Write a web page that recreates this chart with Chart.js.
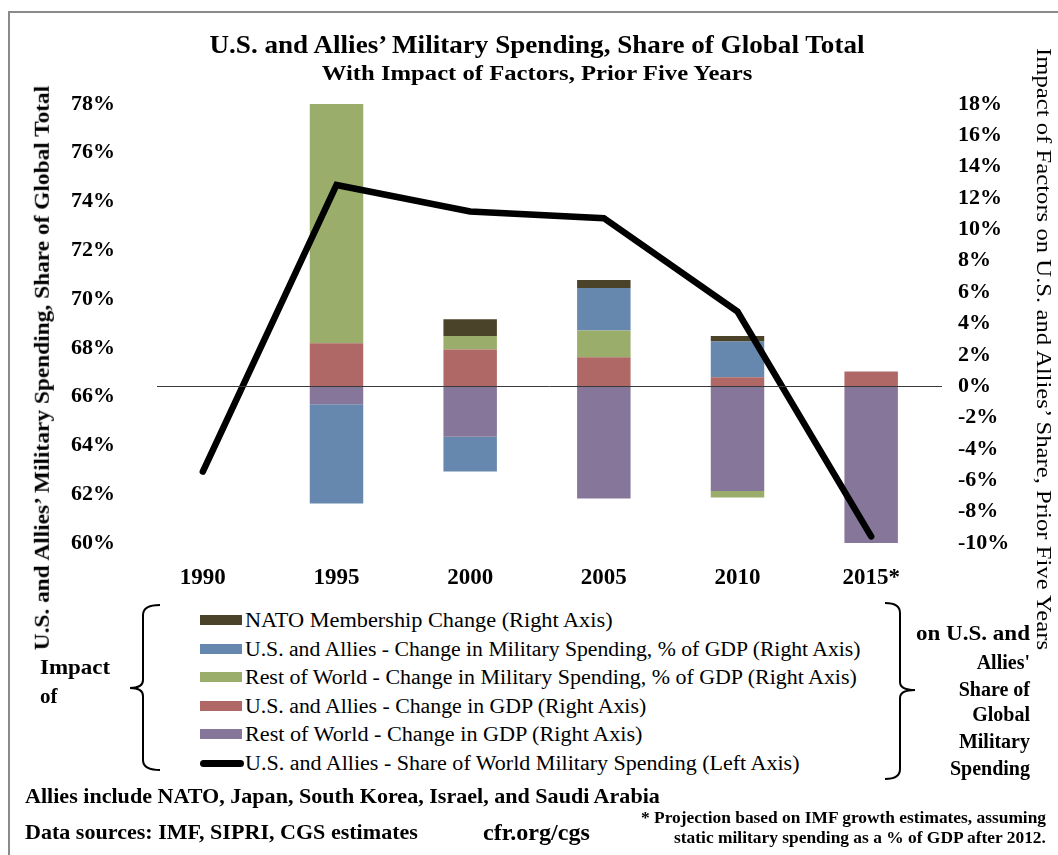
<!DOCTYPE html>
<html>
<head>
<meta charset="utf-8">
<script src="https://cdn.jsdelivr.net/npm/chart.js@4.4.0/dist/chart.umd.min.js"></script>
<style>
  html, body { margin:0; padding:0; background:#fff; }
  body { width:1058px; height:855px; position:relative; overflow:hidden; font-family:"Liberation Serif","DejaVu Serif",serif; color:#000; }
  #wrap { position:absolute; left:0; top:0; width:1058px; height:600px; }
  .t { position:absolute; white-space:nowrap; font-weight:bold; line-height:1.2; }
  .t > span, .lt > span { display:inline-block; }
  .frame { position:absolute; left:8px; top:11px; width:1100px; height:900px; border-left:2px solid #8a8a8a; border-top:2px solid #8a8a8a; }
  .leg { position:absolute; left:200px; white-space:nowrap; font-size:20px; }
  .sw { position:absolute; left:0; width:42px; height:10px; }
  .lt { position:absolute; left:45px; }
</style>
</head>
<body>
<div class="frame"></div>
<div id="wrap"><canvas id="c" width="1058" height="600"></canvas></div>

<div class="t" style="left:537px; top:45px; transform:translate(-50%,-50%); font-size:25px;"><span data-w="655" data-o="center">U.S. and Allies’ Military Spending, Share of Global Total</span></div>
<div class="t" style="left:537px; top:74px; transform:translate(-50%,-50%); font-size:21px;"><span data-w="430" data-o="center">With Impact of Factors, Prior Five Years</span></div>
<div class="t" style="left:42px; top:368px; transform:translate(-50%,-50%) rotate(-90deg); font-size:22px;"><span data-w="565" data-o="center">U.S. and Allies’ Military Spending, Share of Global Total</span></div>
<div class="t" style="left:1044px; top:349px; transform:translate(-50%,-50%) rotate(90deg); font-size:22px; font-weight:normal;"><span data-w="602" data-o="center">Impact of Factors on U.S. and Allies’ Share, Prior Five Years</span></div>

<div id="legend"></div>

<svg style="position:absolute;left:0;top:0" width="1058" height="855">
  <path d="M160,605 Q143,605 143,615 L143,680 Q143,688 130,688 Q143,688 143,696 L143,760 Q143,770 160,770" fill="none" stroke="#000" stroke-width="2"/>
  <path d="M885,603 Q900,603 900,613 L900,682 Q900,690 915,690 Q900,690 900,698 L900,769 Q900,779 885,779" fill="none" stroke="#000" stroke-width="2"/>
</svg>

<div class="t" style="left:40px; top:668px; transform:translateY(-50%); font-size:21px;"><span data-w="70" data-o="left">Impact</span></div>
<div class="t" style="left:40px; top:697px; transform:translateY(-50%); font-size:21px;"><span>of</span></div>

<div class="t" style="right:28px; top:633px; transform:translateY(-50%); font-size:20px;"><span data-w="114" data-o="right">on U.S. and</span></div>
<div class="t" style="right:28px; top:662px; transform:translateY(-50%); font-size:20px;"><span>Allies'</span></div>
<div class="t" style="right:28px; top:689px; transform:translateY(-50%); font-size:20px;"><span>Share of</span></div>
<div class="t" style="right:28px; top:714px; transform:translateY(-50%); font-size:20px;"><span>Global</span></div>
<div class="t" style="right:28px; top:741px; transform:translateY(-50%); font-size:20px;"><span>Military</span></div>
<div class="t" style="right:28px; top:768px; transform:translateY(-50%); font-size:20px;"><span>Spending</span></div>

<div class="t" style="left:25px; top:797px; transform:translateY(-50%); font-size:21px;"><span data-w="635" data-o="left">Allies include NATO, Japan, South Korea, Israel, and Saudi Arabia</span></div>
<div class="t" style="left:25px; top:833px; transform:translateY(-50%); font-size:21px;"><span data-w="393" data-o="left">Data sources: IMF, SIPRI, CGS estimates</span></div>
<div class="t" style="left:483px; top:833px; transform:translateY(-50%); font-size:23px;"><span data-w="107" data-o="left">cfr.org/cgs</span></div>
<div class="t" style="right:12px; top:818px; transform:translateY(-50%); font-size:16px;"><span data-w="405" data-o="right">* Projection based on IMF growth estimates, assuming</span></div>
<div class="t" style="right:12px; top:838px; transform:translateY(-50%); font-size:16px;"><span data-w="372" data-o="right">static military spending as a % of GDP after 2012.</span></div>

<script>
// ---- Data ----
const categories = ['1990', '1995', '2000', '2005', '2010', '2015*'];
const shareOfWorld = [62.93, 74.68, 73.59, 73.32, 69.49, 60.27];     // left axis, %
const rowGdp      = [null, -1.15, -3.23, -7.16, -6.68, -10.0];       // right axis, %
const usGdp       = [null, 2.74, 2.34, 1.85, 0.57, 0.94];
const rowMil      = [null, 15.26, 0.87, 1.70, -0.42, null];
const usMil       = [null, -6.33, -2.21, 2.72, 2.28, null];
const natoChange  = [null, null, 1.06, 0.51, 0.36, null];
const leftTicks  = { min: 60, max: 78, step: 2 };
const rightTicks = { min: -10, max: 18, step: 2 };

const labels = {
  nato:  'NATO Membership Change (Right Axis)',
  usMil: 'U.S. and Allies - Change in Military Spending, % of GDP (Right Axis)',
  rowMil:'Rest of World - Change in Military Spending, % of GDP (Right Axis)',
  usGdp: 'U.S. and Allies - Change in GDP (Right Axis)',
  rowGdp:'Rest of World - Change in GDP (Right Axis)',
  share: 'U.S. and Allies -  Share of World Military Spending (Left Axis)'
};
const colors = {
  nato: '#4a4329', usMil: '#6788ae', rowMil: '#9aad6b', usGdp: '#af6866', rowGdp: '#86779a', share: '#000000'
};

const barDs = (key, data) => ({
  type: 'bar', label: labels[key], data, yAxisID: 'y2', stack: 's',
  backgroundColor: colors[key], borderWidth: 0, barPercentage: 1.0, categoryPercentage: 0.4
});

const zeroLine = {
  id: 'zeroLine',
  afterDatasetsDraw(chart) {
    const {ctx, chartArea, scales} = chart;
    const y = Math.round(scales.y2.getPixelForValue(0)) + 0.5;
    ctx.save();
    ctx.strokeStyle = '#3a3a3a';
    ctx.lineWidth = 1;
    ctx.beginPath();
    ctx.moveTo(chartArea.left + 21, y);
    ctx.lineTo(chartArea.right + 4, y);
    ctx.stroke();
    ctx.restore();
  }
};

const tickFont = { family: '"Liberation Serif", serif', size: 22, weight: 'bold' };

new Chart(document.getElementById('c'), {
  data: {
    labels: categories,
    datasets: [
      { type: 'line', label: labels.share, data: shareOfWorld, yAxisID: 'y', borderColor: colors.share,
        borderWidth: 6.5, pointRadius: 0, tension: 0, borderCapStyle: 'round', borderJoinStyle: 'miter', fill: false },
      barDs('rowGdp', rowGdp),
      barDs('usGdp', usGdp),
      barDs('rowMil', rowMil),
      barDs('usMil', usMil),
      barDs('nato', natoChange)
    ]
  },
  options: {
    responsive: false,
    animation: false,
    events: [],
    layout: { padding: { top: 104, left: 0, right: 0, bottom: 0 } },
    plugins: { legend: { display: false }, tooltip: { enabled: false }, title: { display: false } },
    scales: {
      x: {
        stacked: true,
        grid: { display: false, drawTicks: false },
        border: { display: false },
        ticks: { font: { family: '"Liberation Serif", serif', size: 23, weight: 'bold' }, color: '#000', padding: 21, maxRotation: 0 },
        afterFit(s) { s.height = 57; }
      },
      y: {
        position: 'left', min: leftTicks.min, max: leftTicks.max,
        grid: { display: false, drawTicks: false }, border: { display: false },
        ticks: { stepSize: leftTicks.step, font: tickFont, color: '#000', padding: 21, callback: v => v + '%' },
        afterFit(s) { s.width = 136; }
      },
      y2: {
        position: 'right', stacked: true, min: rightTicks.min, max: rightTicks.max,
        grid: { display: false, drawTicks: false }, border: { display: false },
        ticks: { stepSize: rightTicks.step, font: tickFont, color: '#000', padding: 20, callback: v => v + '%' },
        afterFit(s) { s.width = 120; }
      }
    }
  },
  plugins: [zeroLine]
});

// HTML legend built from the same labels / colours
const legendOrder = ['nato', 'usMil', 'rowMil', 'usGdp', 'rowGdp', 'share'];
const legendWidths = [368, 616, 612, 401, 397, 555];
const rowY = [620, 649, 677, 706, 734, 763];
const legEl = document.getElementById('legend');
legendOrder.forEach((k, i) => {
  const row = document.createElement('div');
  row.className = 'leg';
  row.style.top = (rowY[i] - 12) + 'px';
  row.style.height = '24px';
  const sw = document.createElement('div');
  sw.className = 'sw';
  sw.style.background = colors[k];
  if (k === 'share') { sw.style.height = '7px'; sw.style.top = '9px'; sw.style.borderRadius = '4px'; sw.style.left = '0px'; sw.style.width = '44px'; }
  else { sw.style.top = '7px'; }
  const tx = document.createElement('div');
  tx.className = 'lt';
  tx.style.top = '0px';
  tx.style.lineHeight = '24px';
  const sp = document.createElement('span');
  sp.textContent = labels[k];
  sp.dataset.w = legendWidths[i];
  sp.dataset.o = 'left';
  tx.appendChild(sp);
  row.appendChild(sw); row.appendChild(tx);
  legEl.appendChild(row);
});

function fitTexts() {
  document.querySelectorAll('span[data-w]').forEach(sp => {
    sp.style.transform = '';
    const w = sp.offsetWidth;
    const k = parseFloat(sp.dataset.w) / w;
    sp.style.transformOrigin = (sp.dataset.o || 'left') + ' center';
    sp.style.transform = 'scaleX(' + k.toFixed(4) + ')';
  });
}
fitTexts();
if (document.fonts && document.fonts.ready) document.fonts.ready.then(fitTexts);
</script>
</body>
</html>
